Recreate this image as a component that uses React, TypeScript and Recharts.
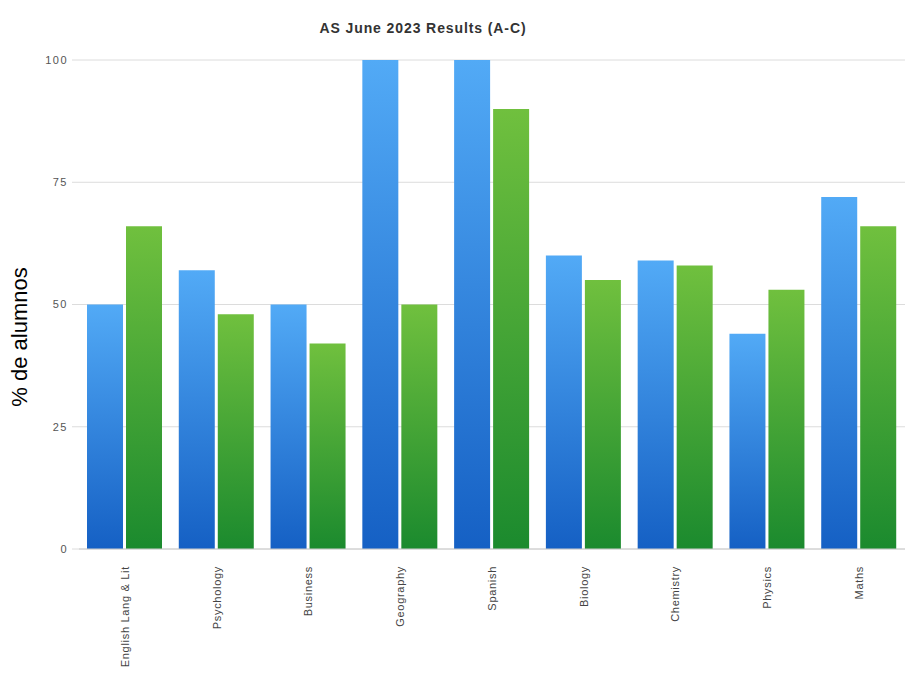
import { Bar, BarChart, CartesianGrid, XAxis, YAxis } from "recharts";

const subjects = [
  "English Lang & Lit",
  "Psychology",
  "Business",
  "Geography",
  "Spanish",
  "Biology",
  "Chemistry",
  "Physics",
  "Maths",
];
const blueValues = [50, 57, 50, 100, 100, 60, 59, 44, 72];
const greenValues = [66, 48, 42, 50, 90, 55, 58, 53, 66];
const yTicks = [0, 25, 50, 75, 100];

const data = subjects.map((s, i) => ({ name: s, a: blueValues[i], b: greenValues[i] }));

const FONT = "'Liberation Sans', Arial, sans-serif";

function SubjectTick({ x, y, payload }: any) {
  return (
    <g transform={`translate(${x},${y})`}>
      <text
        transform="rotate(-90)"
        x={-9}
        y={0}
        dy="0.35em"
        textAnchor="end"
        fontSize={11}
        letterSpacing={0.7}
        fontFamily={FONT}
        fill="#444"
      >
        {payload.value}
      </text>
    </g>
  );
}

export default function App() {
  return (
    <div style={{ position: "relative", width: 907, height: 678, background: "#fff", fontFamily: FONT }}>
      <style>{"body{margin:0}"}</style>
      <div
        style={{
          position: "absolute",
          top: 20,
          left: 0,
          width: 846,
          textAlign: "center",
          fontSize: 14,
          letterSpacing: 0.9,
          fontWeight: "bold",
          color: "#333",
        }}
      >
        AS June 2023 Results (A-C)
      </div>
      <div
        style={{
          position: "absolute",
          left: 20,
          top: 337,
          transform: "translate(-50%, -50%) rotate(-90deg)",
          fontSize: 22,
          color: "#000",
          whiteSpace: "nowrap",
        }}
      >
        % de alumnos
      </div>
      <BarChart
        width={907}
        height={678}
        data={data}
        margin={{ top: 60, right: 2, left: 0, bottom: 0 }}
        barGap={3}
        barSize={36}
      >
        <defs>
          <linearGradient id="blueFill" x1="0" y1="0" x2="0" y2="1">
            <stop offset="0%" stopColor="#52aaf6" />
            <stop offset="100%" stopColor="#1560c4" />
          </linearGradient>
          <linearGradient id="greenFill" x1="0" y1="0" x2="0" y2="1">
            <stop offset="0%" stopColor="#70c03e" />
            <stop offset="100%" stopColor="#1b8a2e" />
          </linearGradient>
        </defs>
        <CartesianGrid vertical={false} stroke="#dcdcdc" />
        <XAxis
          dataKey="name"
          interval={0}
          height={129}
          tick={<SubjectTick />}
          tickLine={false}
          axisLine={{ stroke: "#ccc" }}
        />
        <YAxis
          domain={[0, 100]}
          ticks={yTicks}
          width={79}
          tickSize={7}
          tickMargin={4}
          tickLine={{ stroke: "#dcdcdc" }}
          axisLine={false}
          tick={{ fontSize: 11, fill: "#555", fontFamily: FONT, letterSpacing: 1.5 }}
        />
        <Bar dataKey="a" fill="url(#blueFill)" isAnimationActive={false} />
        <Bar dataKey="b" fill="url(#greenFill)" isAnimationActive={false} />
      </BarChart>
    </div>
  );
}
